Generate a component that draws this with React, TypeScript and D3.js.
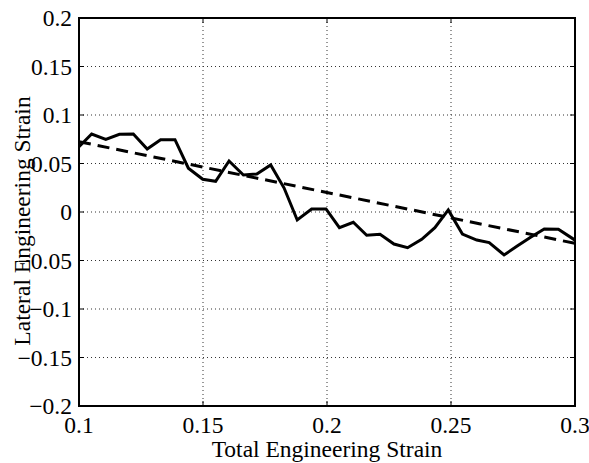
import React from "react";
import * as d3 from "d3";

// Measured lateral vs. total engineering strain
const totalStrain = [
  0.1, 0.1051, 0.1108, 0.1163, 0.1219, 0.1275, 0.1329, 0.1387, 0.1441, 0.1499,
  0.1551, 0.1605, 0.1663, 0.1717, 0.1773, 0.1827, 0.188, 0.1938, 0.1996, 0.205,
  0.2106, 0.216, 0.2214, 0.227, 0.2325, 0.2382, 0.2435, 0.2489, 0.2546, 0.2604,
  0.2654, 0.2714, 0.2767, 0.2821, 0.2876, 0.2933, 0.3,
];
const lateralStrain = [
  0.0673, 0.0804, 0.0749, 0.0801, 0.0804, 0.0649, 0.0745, 0.0745, 0.0451, 0.0337,
  0.0316, 0.0526, 0.0381, 0.0392, 0.0485, 0.0247, -0.0082, 0.0031, 0.0031, -0.0162,
  -0.0106, -0.024, -0.023, -0.033, -0.0368, -0.0281, -0.0162, 0.0021, -0.0227, -0.0289,
  -0.0316, -0.0443, -0.0351, -0.0261, -0.0175, -0.0178, -0.029,
];

// Linear fit endpoints
const fitX = [0.1, 0.3];
const fitY = [0.0725, -0.0323];

const xTicks = [0.1, 0.15, 0.2, 0.25, 0.3];
const yTicks = [-0.2, -0.15, -0.1, -0.05, 0, 0.05, 0.1, 0.15, 0.2];

const W = 589;
const H = 463;
const M = { left: 79, right: 575, top: 18, bottom: 406 };
const FONT = "Liberation Serif, Times New Roman, serif";
const FS = 23.5;

const fmt = (v: number) => {
  const s = String(Math.round(Math.abs(v) * 1000) / 1000);
  return (v < -1e-9 ? "\u2212" : "") + s;
};

const textStyle = { fontFamily: FONT, fontSize: FS, fill: "#000" };

export default function App() {
  const x = d3.scaleLinear().domain([0.1, 0.3]).range([M.left, M.right]);
  const y = d3.scaleLinear().domain([-0.2, 0.2]).range([M.bottom, M.top]);

  const pts = totalStrain.map((t, i) => [t, lateralStrain[i]] as [number, number]);
  const line = d3
    .line<[number, number]>()
    .x((d) => x(d[0]))
    .y((d) => y(d[1]));
  const fit = fitX.map((t, i) => [t, fitY[i]] as [number, number]);

  const tickLen = 5;
  const gridStyle = { stroke: "#333", strokeWidth: 1, strokeDasharray: "1 3" };

  return (
    <svg
      width={W}
      height={H}
      style={{ position: "absolute", left: 0, top: 0, background: "#fff" }}
    >
      <rect x={0} y={0} width={W} height={H} fill="#fff" />
      {/* grid */}
      {xTicks.slice(1, -1).map((t) => (
        <line key={"gx" + t} x1={x(t)} x2={x(t)} y1={M.top} y2={M.bottom} {...gridStyle} />
      ))}
      {yTicks.slice(1, -1).map((t) => (
        <line key={"gy" + t} x1={M.left} x2={M.right} y1={y(t)} y2={y(t)} {...gridStyle} />
      ))}
      {/* ticks on all four sides, pointing inward */}
      {xTicks.map((t) => (
        <g key={"tx" + t}>
          <line x1={x(t)} x2={x(t)} y1={M.bottom} y2={M.bottom - tickLen} stroke="#000" strokeWidth={1} />
          <line x1={x(t)} x2={x(t)} y1={M.top} y2={M.top + tickLen} stroke="#000" strokeWidth={1} />
        </g>
      ))}
      {yTicks.map((t) => (
        <g key={"ty" + t}>
          <line x1={M.left} x2={M.left + tickLen} y1={y(t)} y2={y(t)} stroke="#000" strokeWidth={1} />
          <line x1={M.right} x2={M.right - tickLen} y1={y(t)} y2={y(t)} stroke="#000" strokeWidth={1} />
        </g>
      ))}
      {/* data */}
      <path d={line(fit) || ""} fill="none" stroke="#000" strokeWidth={3} strokeDasharray="12 7" />
      <path d={line(pts) || ""} fill="none" stroke="#000" strokeWidth={3} strokeLinejoin="miter" />
      {/* axes box */}
      <rect
        x={M.left}
        y={M.top}
        width={M.right - M.left}
        height={M.bottom - M.top}
        fill="none"
        stroke="#000"
        strokeWidth={2}
      />
      {/* tick labels */}
      {xTicks.map((t) => (
        <text key={"lx" + t} x={x(t)} y={433} textAnchor="middle" style={textStyle}>
          {fmt(t)}
        </text>
      ))}
      {yTicks.map((t) => (
        <text key={"ly" + t} x={72} y={y(t) + 8} textAnchor="end" style={textStyle}>
          {fmt(t)}
        </text>
      ))}
      {/* axis labels */}
      <text x={(M.left + M.right) / 2} y={457} textAnchor="middle" style={textStyle}>
        Total Engineering Strain
      </text>
      <text
        transform={`translate(30, ${(M.top + M.bottom) / 2 + 9}) rotate(-90)`}
        textAnchor="middle"
        style={textStyle}
      >
        Lateral Engineering Strain
      </text>
    </svg>
  );
}
